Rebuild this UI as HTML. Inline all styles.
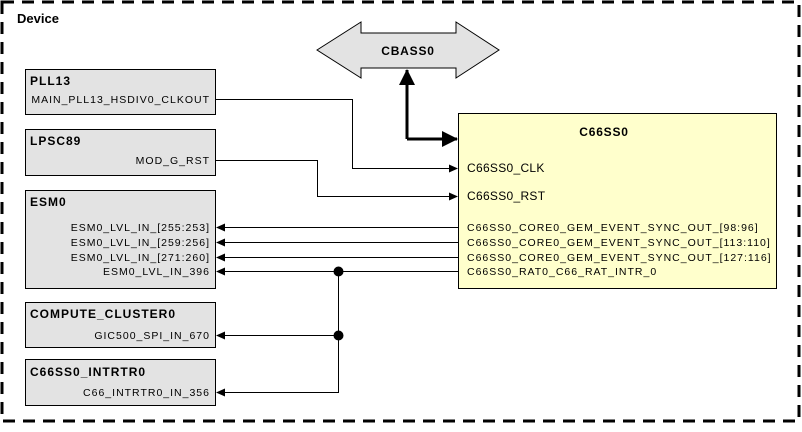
<!DOCTYPE html>
<html><head><style>
body{margin:0;background:#fff;}
svg text{font-family:"Liberation Sans",Arial,sans-serif;}
</style></head><body>
<svg width="802" height="427" viewBox="0 0 802 427" xmlns="http://www.w3.org/2000/svg">
<rect x="2" y="2" width="797" height="419" fill="#fff" stroke="#000" stroke-width="3" stroke-dasharray="12,8"/>
<text x="17" y="23" font-size="13" font-weight="bold">Device</text>
<defs>
<marker id="a" markerWidth="9" markerHeight="8" refX="8" refY="4" orient="auto" markerUnits="userSpaceOnUse"><path d="M0,0L9,4L0,8z" fill="#000"/></marker>
<marker id="b" markerWidth="16" markerHeight="16" refX="15" refY="8" orient="auto" markerUnits="userSpaceOnUse"><path d="M0,0L16,8L0,16z" fill="#000"/></marker>
</defs>
<path d="M317,50L361,22L361,33L456,33L456,22L499,50L456,78L456,68L361,68L361,78Z" fill="#e3e3e3" stroke="#000" stroke-width="1"/>
<text x="408" y="55" font-size="12" font-weight="bold" text-anchor="middle" letter-spacing="0.8">CBASS0</text>
<path d="M407,139L407,70" stroke="#000" stroke-width="3" fill="none" marker-end="url(#b)"/>
<path d="M407,139L457,139" stroke="#000" stroke-width="3" fill="none" marker-end="url(#b)"/>
<rect x="458.5" y="113.5" width="318" height="175" fill="#ffffcc" stroke="#000"/>
<text x="604" y="136" font-size="12" font-weight="bold" text-anchor="middle" letter-spacing="0.8">C66SS0</text>
<g font-size="12" letter-spacing="0.3"><text x="467" y="172">C66SS0_CLK</text><text x="467" y="200">C66SS0_RST</text></g>
<g font-size="10.5" letter-spacing="1"><text x="467" y="231">C66SS0_CORE0_GEM_EVENT_SYNC_OUT_[98:96]</text>
<text x="467" y="246">C66SS0_CORE0_GEM_EVENT_SYNC_OUT_[113:110]</text>
<text x="467" y="261">C66SS0_CORE0_GEM_EVENT_SYNC_OUT_[127:116]</text>
<text x="467" y="275">C66SS0_RAT0_C66_RAT_INTR_0</text></g>
<g fill="#e3e3e3" stroke="#000">
<rect x="25.5" y="69.5" width="190" height="45"/>
<rect x="25.5" y="129.5" width="190" height="46"/>
<rect x="25.5" y="190.5" width="190" height="98"/>
<rect x="25.5" y="302.5" width="190" height="45"/>
<rect x="25.5" y="359.5" width="190" height="46"/>
</g>
<g font-size="12" font-weight="bold" letter-spacing="1">
<text x="30" y="85">PLL13</text><text x="30" y="145">LPSC89</text><text x="30" y="206">ESM0</text>
<text x="30" y="318">COMPUTE_CLUSTER0</text><text x="30" y="376">C66SS0_INTRTR0</text></g>
<g font-size="10.5" text-anchor="end" letter-spacing="1">
<text x="210" y="103">MAIN_PLL13_HSDIV0_CLKOUT</text>
<text x="210" y="164">MOD_G_RST</text>
<text x="210" y="231">ESM0_LVL_IN_[255:253]</text>
<text x="210" y="246">ESM0_LVL_IN_[259:256]</text>
<text x="210" y="261">ESM0_LVL_IN_[271:260]</text>
<text x="210" y="275">ESM0_LVL_IN_396</text>
<text x="210" y="339">GIC500_SPI_IN_670</text>
<text x="210" y="396">C66_INTRTR0_IN_356</text></g>
<g stroke="#000" fill="none" stroke-width="1">
<path d="M216,99.5H352.5V168.5H457" marker-end="url(#a)"/>
<path d="M216,160.5H317.5V196.5H457" marker-end="url(#a)"/>
<path d="M458,227.5H217" marker-end="url(#a)"/>
<path d="M458,242.5H217" marker-end="url(#a)"/>
<path d="M458,257.5H217" marker-end="url(#a)"/>
<path d="M458,271.5H217" marker-end="url(#a)"/>
<path d="M338.5,271.5V335.5H217" marker-end="url(#a)"/>
<path d="M338.5,335.5V392.5H217" marker-end="url(#a)"/>
</g>
<circle cx="338.5" cy="271.5" r="5" fill="#000"/>
<circle cx="338.5" cy="335.5" r="5" fill="#000"/>
</svg>
</body></html>
